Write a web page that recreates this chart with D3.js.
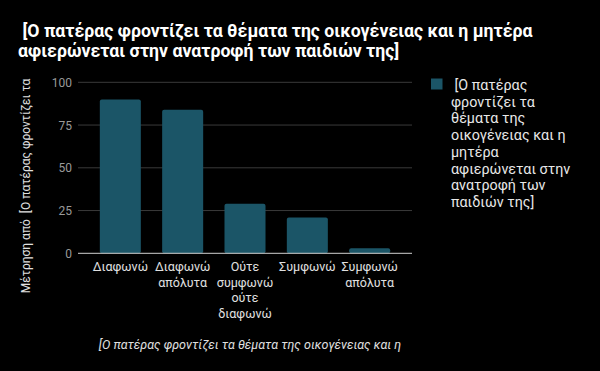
<!DOCTYPE html>
<html><head><meta charset="utf-8">
<script src="https://cdn.jsdelivr.net/npm/d3@7"></script>
<style>
body{margin:0;background:#000;}
svg{display:block;font-family:Roboto,"Noto Sans",sans-serif;}
</style></head>
<body>
<script>
const categories = [["Διαφωνώ"],["Διαφωνώ","απόλυτα"],["Ούτε","συμφωνώ","ούτε","διαφωνώ"],["Συμφωνώ"],["Συμφωνώ","απόλυτα"]];
const values = [90, 84, 29, 21, 3];
const yTicks = [0, 25, 50, 75, 100];
const titleLines = [" [Ο πατέρας φροντίζει τα θέματα της οικογένειας και η μητέρα", "αφιερώνεται στην ανατροφή των παιδιών της]"];
const legendLines = [" [Ο πατέρας", "φροντίζει τα", "θέματα της", "οικογένειας και η", "μητέρα", "αφιερώνεται στην", "ανατροφή των", "παιδιών της]"];
const xTitle = "[Ο πατέρας φροντίζει τα θέματα της οικογένειας και η";
const yTitle = "Μέτρηση από  [Ο πατέρας φροντίζει τα";

const W = 600, H = 371;
const svg = d3.select("body").append("svg").attr("width", W).attr("height", H);
svg.append("rect").attr("width", W).attr("height", H).attr("fill", "#000");

const barColor = "#1b5567";
const x = d3.scaleBand().domain(d3.range(values.length)).range([78, 412]).paddingInner(0.342).paddingOuter(0.35);
const y = d3.scaleLinear().domain([0, 100]).range([253.3, 82.3]);

// title
svg.append("text").attr("x", 18).attr("y", 37).attr("fill", "#fff")
  .attr("font-size", 17.7).attr("font-weight", "bold")
  .selectAll("tspan").data(titleLines).join("tspan")
  .attr("x", 18).attr("dy", (d, i) => i ? 20 : 0).attr("xml:space", "preserve").text(d => d);

// gridlines
svg.append("g").selectAll("line").data(yTicks.filter(t => t > 0)).join("line")
  .attr("x1", 78).attr("x2", 412).attr("y1", d => y(d)).attr("y2", d => y(d))
  .attr("stroke", "#3a3a3a").attr("stroke-width", 1);

// y tick labels
svg.append("g").selectAll("text").data(yTicks).join("text")
  .attr("x", 72).attr("y", d => y(d) + 4.5).attr("text-anchor", "end")
  .attr("fill", "#9a9a9a").attr("font-size", 12).text(d => d);

// bars
svg.append("g").selectAll("rect").data(values).join("rect")
  .attr("x", (d, i) => x(i)).attr("width", x.bandwidth())
  .attr("y", d => y(d)).attr("height", d => y(0) - y(d))
  .attr("rx", 2).attr("fill", barColor);

// baseline
svg.append("line").attr("x1", 78).attr("x2", 412).attr("y1", y(0)).attr("y2", y(0))
  .attr("stroke", "#d0d0d0").attr("stroke-width", 1);

// x labels
const xl = svg.append("g");
categories.forEach((lines, i) => {
  const t = xl.append("text").attr("fill", "#e0e0e0").attr("font-size", 12.5).attr("text-anchor", "middle");
  lines.forEach((ln, j) => {
    t.append("tspan").attr("x", x(i) + x.bandwidth() / 2).attr("y", 271 + j * 15.7).text(ln);
  });
});

// x title
svg.append("text").attr("x", 250).attr("y", 349).attr("text-anchor", "middle")
  .attr("fill", "#e0e0e0").attr("font-size", 12.5).attr("font-style", "italic").text(xTitle);

// y title
svg.append("text").attr("transform", "translate(30,186) rotate(-90)").attr("text-anchor", "middle")
  .attr("fill", "#e0e0e0").attr("font-size", 12).attr("xml:space", "preserve").text(yTitle);

// legend
svg.append("rect").attr("x", 431).attr("y", 78.5).attr("width", 11.5).attr("height", 11).attr("fill", barColor);
svg.append("text").attr("fill", "#e8e8e8").attr("font-size", 14.3)
  .selectAll("tspan").data(legendLines).join("tspan")
  .attr("x", 451).attr("y", (d, i) => 90 + i * 16.7).attr("xml:space", "preserve").text(d => d);
</script>
</body></html>
